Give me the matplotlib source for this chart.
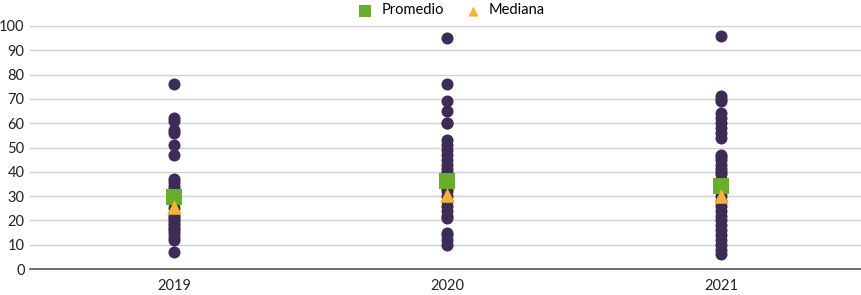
import matplotlib
matplotlib.use("Agg")
import matplotlib.pyplot as plt
import numpy as np

plt.rcParams['font.family'] = ['Lato', 'DejaVu Sans']

years = ["2019", "2020", "2021"]
vals_2019 = [76, 62, 61, 57, 56, 51, 47, 37, 36, 34, 33, 31, 29, 27, 25, 23,
             22, 21, 20, 19, 18, 17, 16, 15, 13, 12, 7]
vals_2020 = [95, 76, 69, 65, 60, 60, 53, 51, 49, 47, 45, 43, 41, 40, 38, 36,
             33, 32, 30, 28, 26, 24, 22, 21, 15, 14, 12, 10]
vals_2021 = [96, 71, 70, 69, 64, 62, 60, 58, 56, 54, 47, 46, 45, 43, 41, 40,
             39, 37, 33, 30, 28, 26, 24, 22, 20, 18, 16, 14, 12, 10, 8, 6]
promedio = [29.6, 36.3, 34.2]
mediana = [25.5, 30.5, 30.0]

DOT = "#3b2d55"
GREEN = "#6aad2c"
ORANGE = "#f6b33a"

fig = plt.figure(figsize=(8.62, 2.95), dpi=100)
ax = fig.add_axes([0.035, 0.088, 0.965, 0.824])

for i, vals in enumerate([vals_2019, vals_2020, vals_2021]):
    ax.scatter(np.full(len(vals), i), vals, s=75, color=DOT, zorder=3,
               linewidths=0)

x = np.arange(len(years))
ax.scatter(x, promedio, s=140, marker="s", color=GREEN, zorder=4,
           linewidths=0, label="Promedio")
ax.scatter(x, mediana, s=110, marker="^", color=ORANGE, zorder=5,
           linewidths=0, label="Mediana")

ax.set_xlim(-0.525, 2.515)
ax.set_ylim(0, 100)
ax.set_yticks(range(0, 101, 10))
ax.set_xticks(x)
ax.set_xticklabels(years)
ax.yaxis.grid(True, color="#d0d0d0", linewidth=1)
ax.set_axisbelow(True)
for s in ["top", "right", "left"]:
    ax.spines[s].set_visible(False)
ax.spines["bottom"].set_color("#555555")
ax.spines["bottom"].set_linewidth(1.2)
ax.tick_params(axis="both", length=0, labelsize=10.5, colors="#222222")
ax.tick_params(axis="x", pad=7)
ax.tick_params(axis="y", pad=4)

leg = ax.legend(loc="lower center", bbox_to_anchor=(0.502, 1.035), ncol=2,
                frameon=False, fontsize=10.5, handletextpad=0.1,
                columnspacing=1.0, markerscale=0.7, borderaxespad=0,
                borderpad=0)

fig.savefig("out.png", dpi=100)
